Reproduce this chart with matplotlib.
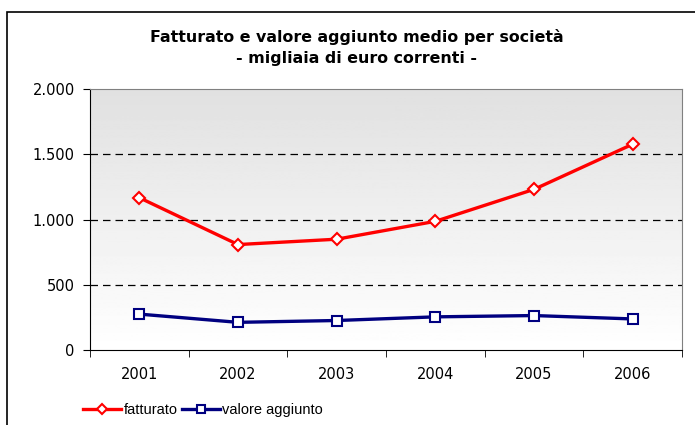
import numpy as np
import matplotlib.pyplot as plt
from matplotlib.patches import Rectangle

# dati (migliaia di euro correnti)
anni = ['2001', '2002', '2003', '2004', '2005', '2006']
fatturato = [1167, 808, 849, 986, 1231, 1577]
valore_aggiunto = [275, 212, 226, 254, 264, 238]
y_ticks = [0, 500, 1000, 1500, 2000]
y_labels = ['0', '500', '1.000', '1.500', '2.000']

plt.rcParams['font.family'] = ['DejaVu Sans']

fig = plt.figure(figsize=(6.95, 4.25), dpi=100)
ax = fig.add_axes([90 / 695, 75 / 425, 592 / 695, 261 / 425])

# cornice esterna
fig.patches.append(Rectangle((7 / 695, -0.1), 1.2, (425 - 12) / 425 + 0.1,
                             transform=fig.transFigure, fill=False,
                             edgecolor='black', linewidth=1.2))

# sfondo sfumato (grigio in alto, bianco in basso)
grad = np.linspace(0.88, 1.0, 256).reshape(-1, 1)
ax.imshow(grad, extent=[0, 1, 0, 1], transform=ax.transAxes, aspect='auto',
          origin='upper', cmap='gray', vmin=0, vmax=1, zorder=0)

x = np.arange(len(anni))
ax.plot(x, fatturato, color='#ff0000', linewidth=2.4, marker='D', markersize=6.5,
        markerfacecolor='white', markeredgecolor='#ff0000', markeredgewidth=1.5,
        label='fatturato', zorder=3)
ax.plot(x, valore_aggiunto, color='#000080', linewidth=2.4, marker='s', markersize=7,
        markerfacecolor='white', markeredgecolor='#000080', markeredgewidth=1.5,
        label='valore aggiunto', zorder=3)

ax.set_xlim(-0.5, len(anni) - 0.5)
ax.set_ylim(0, 2000)
ax.set_yticks(y_ticks)
ax.set_yticklabels(y_labels, fontsize=10.5)
for v in y_ticks[1:-1]:
    ax.axhline(v, color='black', linestyle=(0, (6, 4)), linewidth=0.9, zorder=1)

ax.set_xticks(x)
ax.set_xticklabels(anni, fontsize=10.5)
ax.tick_params(axis='x', length=0, pad=12)
ax.set_xticks(np.arange(-0.5, len(anni)), minor=True)
ax.tick_params(axis='x', which='minor', length=5, direction='out', color='black')
ax.tick_params(axis='y', length=5, direction='out', pad=6)

for s in ['top', 'right']:
    ax.spines[s].set_color('#808080')
ax.spines['left'].set_color('black')
ax.spines['bottom'].set_color('black')

fig.text(0.513, 0.913, 'Fatturato e valore aggiunto medio per società',
         ha='center', va='center', fontsize=11.4, fontweight='bold')
fig.text(0.513, 0.863, '- migliaia di euro correnti -',
         ha='center', va='center', fontsize=11.4, fontweight='bold')

leg = fig.legend(loc='center left', bbox_to_anchor=(76 / 695, 1 - 410 / 425), ncol=2,
                 frameon=False, prop={'family': 'Liberation Sans', 'size': 10.5},
                 handlelength=2.6, handletextpad=0.15, columnspacing=0.3,
                 borderpad=0, markerscale=0.85)

fig.savefig('out.png', dpi=100)
